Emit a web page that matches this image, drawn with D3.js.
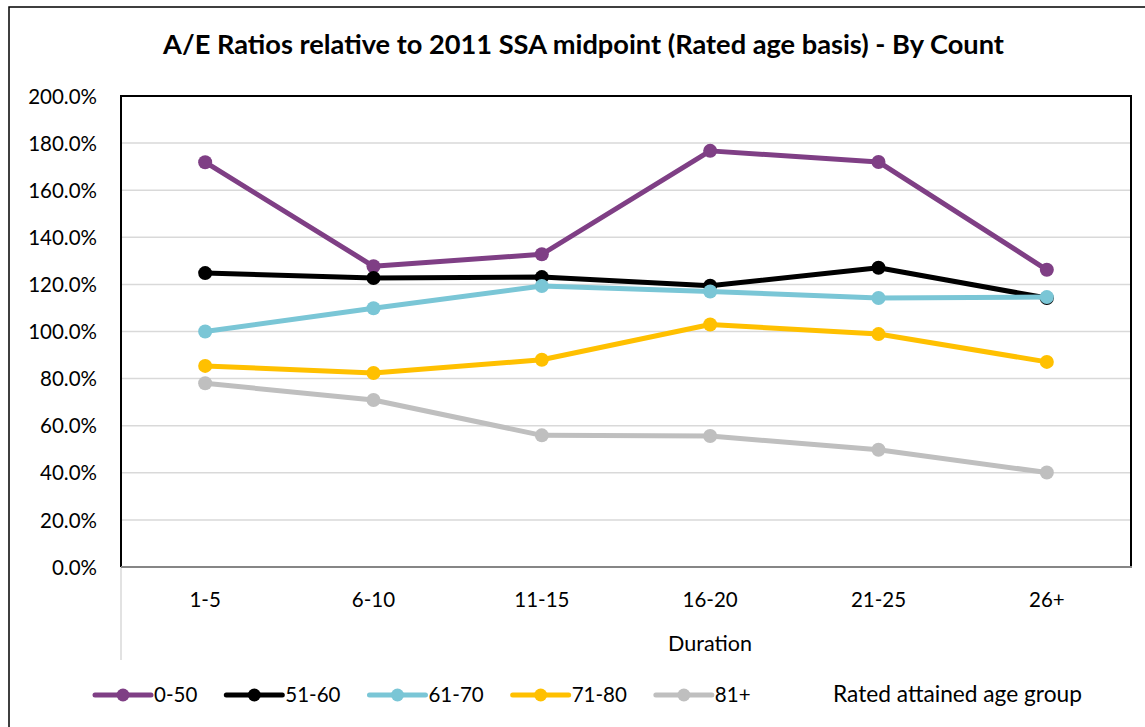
<!DOCTYPE html>
<html>
<head>
<meta charset="utf-8">
<script src="https://cdn.jsdelivr.net/npm/d3@7"></script>
<style>
  html, body { margin: 0; padding: 0; background: #fff; }
  svg { display: block; font-family: Lato, "Open Sans", sans-serif; }
</style>
</head>
<body>
<svg id="chart" width="1145" height="727"></svg>
<script>
// ---- data ----
const categories = ["1-5", "6-10", "11-15", "16-20", "21-25", "26+"];
const seriesNames = ["0-50", "51-60", "61-70", "71-80", "81+"];
const s0_50  = [171.9, 127.7, 132.8, 176.7, 172.0, 126.2];
const s51_60 = [124.8, 122.7, 123.1, 119.4, 127.1, 114.2];
const s61_70 = [100.0, 109.9, 119.3, 117.0, 114.2, 114.6];
const s71_80 = [85.4, 82.4, 88.0, 103.0, 98.9, 87.1];
const s81p   = [78.0, 70.9, 55.9, 55.6, 49.8, 40.1];
const yTicks = [0, 20, 40, 60, 80, 100, 120, 140, 160, 180, 200];
const titleText = "A/E Ratios relative to 2011 SSA midpoint (Rated age basis) - By Count";
const xTitle = "Duration";
const legendExtra = "Rated attained age group";

const seriesColors = ["#7F3F85", "#000000", "#7AC6D6", "#FFC000", "#BFBFBF"];
const seriesData = [s0_50, s51_60, s61_70, s71_80, s81p];

// ---- layout ----
const svg = d3.select("#chart");
const plot = { left: 121, right: 1131, top: 96, bottom: 567 };

function fitWidth(sel, target) {
  const w = sel.node().getComputedTextLength();
  const fs = parseFloat(sel.attr("font-size"));
  sel.attr("font-size", (fs * target / w).toFixed(2));
}

// outer chart border
svg.append("rect")
  .attr("x", 9).attr("y", 7).attr("width", 1160).attr("height", 740)
  .attr("fill", "none").attr("stroke", "#000").attr("stroke-width", 1.5);

// title
const t = svg.append("text")
  .attr("x", 583.5).attr("y", 54)
  .attr("text-anchor", "middle")
  .attr("font-size", 23).attr("font-weight", "bold").attr("fill", "#000")
  .text(titleText);
fitWidth(t, 841);

const x = d3.scaleBand().domain(categories).range([plot.left, plot.right]).padding(0);
const y = d3.scaleLinear().domain([0, 200]).range([plot.bottom, plot.top]);

// gridlines
svg.append("g")
  .selectAll("line").data(yTicks.filter(d => d > 0)).join("line")
  .attr("x1", plot.left).attr("x2", plot.right)
  .attr("y1", d => y(d)).attr("y2", d => y(d))
  .attr("stroke", "#D9D9D9").attr("stroke-width", 1.5);

// y axis labels
const yAxis = d3.axisLeft(y).tickValues(yTicks).tickSize(0).tickPadding(0)
  .tickFormat(d => d.toFixed(1) + "%");
const yg = svg.append("g").attr("transform", `translate(${plot.left - 24},0)`).call(yAxis);
yg.select(".domain").remove();
yg.selectAll("text").attr("font-size", 20.5).attr("font-family", "Lato, sans-serif")
  .attr("fill", "#000").attr("dy", "0.35em");

// x axis labels
const xAxis = d3.axisBottom(x).tickSize(0).tickPadding(0);
const xg = svg.append("g").attr("transform", `translate(0,${plot.bottom + 40})`).call(xAxis);
xg.select(".domain").remove();
xg.selectAll("text").attr("font-size", 20.5).attr("font-family", "Lato, sans-serif")
  .attr("fill", "#000").attr("dy", 0);

// tick below left edge
svg.append("line")
  .attr("x1", plot.left).attr("x2", plot.left)
  .attr("y1", plot.bottom).attr("y2", 660)
  .attr("stroke", "#D9D9D9").attr("stroke-width", 1.5);

// plot border (left, top, right black), bottom axis gray
svg.append("path")
  .attr("d", `M${plot.left},${plot.bottom} V${plot.top} H${plot.right} V${plot.bottom}`)
  .attr("fill", "none").attr("stroke", "#000").attr("stroke-width", 2);
svg.append("line")
  .attr("x1", plot.left).attr("x2", plot.right + 1)
  .attr("y1", plot.bottom).attr("y2", plot.bottom)
  .attr("stroke", "#868686").attr("stroke-width", 2);

// x title
const xt = svg.append("text")
  .attr("x", 710).attr("y", 651)
  .attr("text-anchor", "middle")
  .attr("font-size", 20).attr("fill", "#000")
  .text(xTitle);
fitWidth(xt, 84);

// series
const line = d3.line()
  .x((d, i) => x(categories[i]) + x.bandwidth() / 2)
  .y(d => y(d));

seriesData.forEach((vals, si) => {
  const g = svg.append("g");
  g.append("path").datum(vals)
    .attr("d", line)
    .attr("fill", "none").attr("stroke", seriesColors[si])
    .attr("stroke-width", 5).attr("stroke-linejoin", "round").attr("stroke-linecap", "round");
  g.selectAll("circle").data(vals).join("circle")
    .attr("cx", (d, i) => x(categories[i]) + x.bandwidth() / 2)
    .attr("cy", d => y(d))
    .attr("r", 7)
    .attr("fill", seriesColors[si]);
});

// legend
const legendY = 695;
let lx = 95;
const lg = svg.append("g");
seriesNames.forEach((name, i) => {
  lg.append("line")
    .attr("x1", lx).attr("x2", lx + 56)
    .attr("y1", legendY).attr("y2", legendY)
    .attr("stroke", seriesColors[i]).attr("stroke-width", 5).attr("stroke-linecap", "round");
  lg.append("circle").attr("cx", lx + 28).attr("cy", legendY).attr("r", 6.5)
    .attr("fill", seriesColors[i]);
  const tx = lg.append("text")
    .attr("x", lx + 59).attr("y", legendY + 7)
    .attr("font-size", 20.5).attr("fill", "#000")
    .text(name);
  lx = lx + 59 + tx.node().getComputedTextLength() + 29;
});
const le = lg.append("text")
  .attr("x", 833).attr("y", legendY + 7)
  .attr("font-size", 20).attr("fill", "#000")
  .text(legendExtra);
fitWidth(le, 249);
</script>
</body>
</html>
